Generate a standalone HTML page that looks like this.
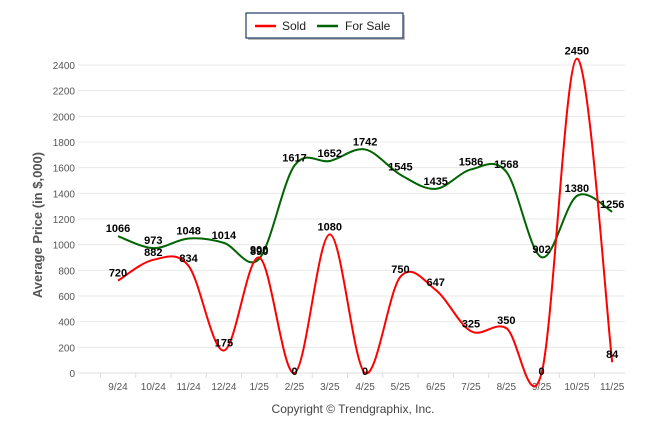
<!DOCTYPE html>
<html><head><meta charset="utf-8"><style>
body{margin:0;background:#fff;font-family:"Liberation Sans",sans-serif}
svg text{font-family:"Liberation Sans",sans-serif}
</style></head><body>
<svg width="646" height="434" xmlns="http://www.w3.org/2000/svg">
<g id="grid"></g>
<g id="series"></g>
<g id="labels"></g>
<g>
<rect x="248" y="15" width="157" height="25" fill="#bbb"/>
<rect x="246" y="13" width="157" height="25" fill="#fff" stroke="#1f3864" stroke-width="1.2"/>
<line x1="255" y1="26" x2="276" y2="26" stroke="#f00" stroke-width="2.5"/>
<text x="282" y="30" font-size="12" fill="#222">Sold</text>
<line x1="317" y1="26" x2="338" y2="26" stroke="#006400" stroke-width="2.5"/>
<text x="345" y="30" font-size="12" fill="#222">For Sale</text>
</g>
<text transform="translate(42,225) rotate(-90)" text-anchor="middle" font-size="13" font-weight="bold" fill="#555">Average Price (in $,000)</text>
<text x="353" y="413" text-anchor="middle" font-size="12" fill="#444">Copyright © Trendgraphix, Inc.</text>
</svg>
<script>
const categories=["9/24","10/24","11/24","12/24","1/25","2/25","3/25","4/25","5/25","6/25","7/25","8/25","9/25","10/25","11/25"];
const sold=[720,882,834,175,900,0,1080,0,750,647,325,350,0,2450,84];
const forSale=[1066,973,1048,1014,890,1617,1652,1742,1545,1435,1586,1568,902,1380,1256];
const yTicks=[0,200,400,600,800,1000,1200,1400,1600,1800,2000,2200,2400];
const NS="http://www.w3.org/2000/svg";
const x=i=>118+i*35.3, y=v=>373-v*(308/2400);
function el(t,a,p){const e=document.createElementNS(NS,t);for(const k in a)e.setAttribute(k,a[k]);document.getElementById(p).appendChild(e);return e;}
yTicks.forEach(t=>{
 const g=el('line',{x1:78,x2:625,y1:y(t),y2:y(t),stroke:t?'#e8e8e8':'#ddd'},'grid');
 
 
 const l=el('text',{x:75,y:y(t)+4,'text-anchor':'end','font-size':'10',fill:'#555'},'grid');
 l.textContent=t;
 
 
});
categories.forEach((c,i)=>{
 const tk=el('line',{x1:x(i)-17.6,x2:x(i)-17.6,y1:373,y2:378,stroke:'#ddd'},'grid');
 
 
 const l=el('text',{x:x(i),y:390,'text-anchor':'middle','font-size':'10',fill:'#555'},'grid');
 l.textContent=c;
 
 
});
function path(vals){
 const p=vals.map((v,i)=>[x(i),y(v)]);let d=`M${p[0][0]},${p[0][1]}`;
 for(let i=0;i<p.length-1;i++){const p0=p[i-1]||p[i],p1=p[i],p2=p[i+1],p3=p[i+2]||p2;
  d+=` C${p1[0]+(p2[0]-p0[0])/6},${p1[1]+(p2[1]-p0[1])/6} ${p2[0]-(p3[0]-p1[0])/6},${p2[1]-(p3[1]-p1[1])/6} ${p2[0]},${p2[1]}`;}
 return d;}
const s1=el('path',{d:path(forSale),fill:'none',stroke:'#006400','stroke-width':2},'series');


const s2=el('path',{d:path(sold),fill:'none',stroke:'#f00','stroke-width':2},'series');


[[forSale,'for-sale-label'],[sold,'sold-label']].forEach(([arr,n])=>arr.forEach((v,i)=>{
 const t=el('text',{x:x(i),y:y(v)-(v===0?-2:4),'text-anchor':'middle','font-size':'11','font-weight':'bold',fill:'#000'},'labels');
 t.textContent=v;
 
 
}));
</script>
</body></html>
